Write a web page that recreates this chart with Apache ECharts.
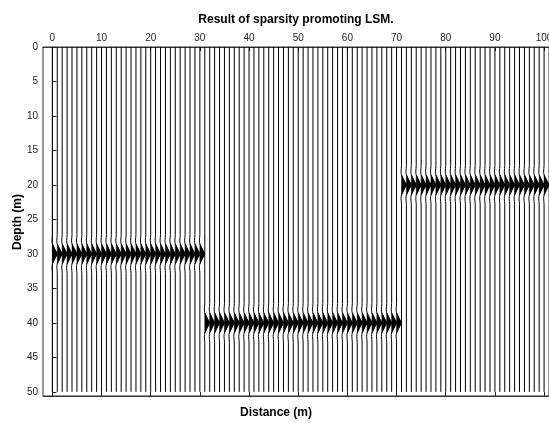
<!DOCTYPE html>
<html>
<head>
<meta charset="utf-8">
<script src="https://cdn.jsdelivr.net/npm/echarts@6/dist/echarts.min.js"></script>
<style>
  html, body { margin: 0; padding: 0; background: #fff; }
  #chart { width: 549px; height: 423px; }
</style>
</head>
<body>
<div id="chart"></div>
<script>
// Trace positions along the line (m)
const traceDistances = [
  0, 1, 2, 3, 4, 5, 6, 7, 8, 9, 10, 11, 12, 13, 14, 15, 16, 17, 18, 19,
  20, 21, 22, 23, 24, 25, 26, 27, 28, 29, 30, 31, 32, 33, 34, 35, 36, 37, 38, 39,
  40, 41, 42, 43, 44, 45, 46, 47, 48, 49, 50, 51, 52, 53, 54, 55, 56, 57, 58, 59,
  60, 61, 62, 63, 64, 65, 66, 67, 68, 69, 70, 71, 72, 73, 74, 75, 76, 77, 78, 79,
  80, 81, 82, 83, 84, 85, 86, 87, 88, 89, 90, 91, 92, 93, 94, 95, 96, 97, 98, 99, 100
];

// Imaged reflector segments: first trace, last trace, depth (m)
const reflectorFrom = [0, 31, 71];
const reflectorTo = [30, 70, 100];
const reflectorDepth = [30, 40, 20];

// Recovered wavelet: depth offset (m) and amplitude (in trace spacings)
const waveletOffset = [-2.8, -2.4, -2.0, -1.7, -1.45, -1.15, -0.85, -0.55, -0.3, -0.12, 0,
                        0.12, 0.3, 0.55, 0.85, 1.15, 1.45, 1.7, 2.0, 2.4, 2.8];
const waveletAmp = [0, -0.04, -0.09, -0.07, 0, 0.2, 0.4, 0.6, 0.8, 0.93, 1.0,
                    0.93, 0.8, 0.6, 0.4, 0.2, 0, -0.07, -0.09, -0.04, 0];

// Axis ticks
const distanceTicks = [0, 10, 20, 30, 40, 50, 60, 70, 80, 90, 100];
const depthTicks = [0, 5, 10, 15, 20, 25, 30, 35, 40, 45, 50];
const traceLength = 50;

// One row per trace: [distance, reflector depth]
const traceRows = traceDistances.map(function (d) {
  let depth = null;
  for (let s = 0; s < reflectorFrom.length; s++) {
    if (d >= reflectorFrom[s] && d <= reflectorTo[s]) depth = reflectorDepth[s];
  }
  return [d, depth];
});

function renderTrace(params, api) {
  const x = api.value(0);
  const depth = api.value(1);
  const line = [api.coord([x, 0])];
  const fill = [];
  for (let k = 0; k < waveletOffset.length; k++) {
    const p = api.coord([x + waveletAmp[k], depth + waveletOffset[k]]);
    line.push(p);
    if (waveletAmp[k] >= 0 && Math.abs(waveletOffset[k]) <= 1.45) fill.push(p);
  }
  line.push(api.coord([x, traceLength]));
  return {
    type: 'group',
    children: [
      { type: 'polygon', shape: { points: fill }, style: { fill: '#000', stroke: '#000', lineWidth: 0.5 } },
      { type: 'polyline', shape: { points: line }, style: { stroke: '#000', lineWidth: 1, fill: null } }
    ]
  };
}

const chart = echarts.init(document.getElementById('chart'), null, { renderer: 'canvas' });

const axisFont = { fontFamily: 'Liberation Sans, Arial, sans-serif', fontSize: 10, color: '#222' };
const xRange = { min: -1.9, max: 101 };

chart.setOption({
  animation: false,
  backgroundColor: '#fff',
  grid: {
    left: 43, top: 47, right: 0, bottom: 27,
    outerBoundsMode: 'none', containLabel: false,
    show: true, borderColor: '#333', borderWidth: 1, backgroundColor: 'transparent'
  },
  xAxis: [
    {
      type: 'value', position: 'top', min: xRange.min, max: xRange.max,
      axisLine: { show: true, lineStyle: { color: '#333' } },
      axisTick: { show: true, inside: true, length: 4, customValues: distanceTicks, lineStyle: { color: '#222' } },
      axisLabel: Object.assign({ customValues: distanceTicks, margin: 4 }, axisFont),
      splitLine: { show: false }
    },
    {
      type: 'value', position: 'bottom', min: xRange.min, max: xRange.max,
      axisLine: { show: true, lineStyle: { color: '#333' } },
      axisTick: { show: true, inside: true, length: 4, customValues: distanceTicks, lineStyle: { color: '#222' } },
      axisLabel: { show: false },
      splitLine: { show: false }
    }
  ],
  yAxis: {
    type: 'value', inverse: true, min: 0, max: 50.6,
    axisLine: { show: true, lineStyle: { color: '#333' } },
    axisTick: { show: true, inside: true, length: 4, customValues: depthTicks, lineStyle: { color: '#222' } },
    axisLabel: Object.assign({ customValues: depthTicks, margin: 5 }, axisFont),
    splitLine: { show: false }
  },
  graphic: [
    {
      type: 'text', x: 296, y: 20,
      style: {
        text: 'Result of sparsity promoting LSM.', align: 'center', verticalAlign: 'middle',
        font: 'bold 12px "Liberation Sans", Arial, sans-serif', fill: '#000'
      }
    },
    {
      type: 'text', x: 276, y: 413,
      style: {
        text: 'Distance (m)', align: 'center', verticalAlign: 'middle',
        font: 'bold 12px "Liberation Sans", Arial, sans-serif', fill: '#000'
      }
    },
    {
      type: 'text', x: 18, y: 222, rotation: Math.PI / 2,
      style: {
        text: 'Depth (m)', align: 'center', verticalAlign: 'middle',
        font: 'bold 12px "Liberation Sans", Arial, sans-serif', fill: '#000'
      }
    }
  ],
  series: [{
    type: 'custom',
    xAxisIndex: 0,
    yAxisIndex: 0,
    renderItem: renderTrace,
    encode: { x: 0, y: 1 },
    data: traceRows,
    clip: true
  }]
});
</script>
</body>
</html>
